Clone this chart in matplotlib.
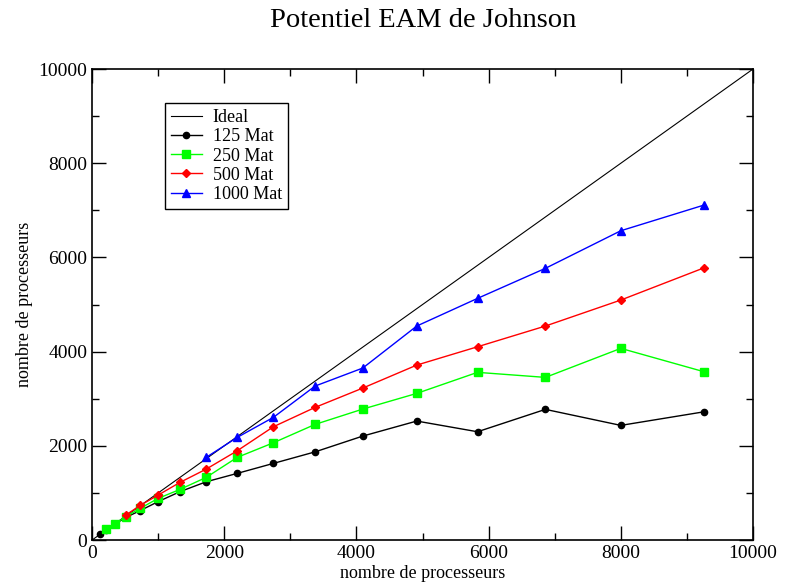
import matplotlib
matplotlib.use("Agg")
from matplotlib import pyplot as plt
from matplotlib.ticker import MultipleLocator

plt.rcParams["font.family"] = ["Liberation Serif", "DejaVu Serif"]

# processor counts (cubes 5^3 .. 21^3)
procs_125 = [125, 216, 343, 512, 729, 1000, 1331, 1728, 2197, 2744, 3375, 4096, 4913, 5832, 6859, 8000, 9261]
speed_125 = [128, 215, 335, 482, 626, 816, 1028, 1238, 1416, 1628, 1873, 2208, 2527, 2300, 2775, 2435, 2724]

procs_250 = [216, 343, 512, 729, 1000, 1331, 1728, 2197, 2744, 3375, 4096, 4913, 5832, 6859, 8000, 9261]
speed_250 = [227, 340, 500, 673, 885, 1076, 1331, 1756, 2066, 2456, 2781, 3114, 3561, 3454, 4070, 3573]

procs_500 = [512, 729, 1000, 1331, 1728, 2197, 2744, 3375, 4096, 4913, 5832, 6859, 8000, 9261]
speed_500 = [531, 737, 955, 1225, 1507, 1896, 2406, 2817, 3227, 3715, 4104, 4544, 5096, 5781]

procs_1000 = [1728, 2197, 2744, 3375, 4096, 4913, 5832, 6859, 8000, 9261]
speed_1000 = [1756, 2180, 2605, 3270, 3652, 4544, 5131, 5769, 6567, 7113]

ideal = [0, 10000]

fig = plt.figure(figsize=(7.93, 5.82), dpi=100)
ax = fig.add_axes([0.116, 0.072, 0.8336, 0.8094])

ax.plot(ideal, ideal, color="black", lw=0.8, label="Ideal")
ax.plot(procs_125, speed_125, color="black", lw=1, marker="o", ms=4.5, label="125 Mat")
ax.plot(procs_250, speed_250, color="#00ff00", lw=1, marker="s", ms=5.5, label="250 Mat")
ax.plot(procs_500, speed_500, color="red", lw=1, marker="D", ms=4.5, label="500 Mat")
ax.plot(procs_1000, speed_1000, color="blue", lw=1, marker="^", ms=6, label="1000 Mat")

ax.set_xlim(0, 10000)
ax.set_ylim(0, 10000)
ax.xaxis.set_major_locator(MultipleLocator(2000))
ax.xaxis.set_minor_locator(MultipleLocator(1000))
ax.yaxis.set_major_locator(MultipleLocator(2000))
ax.yaxis.set_minor_locator(MultipleLocator(1000))
ax.tick_params(which="both", direction="in", top=True, right=True, labelsize=14, width=1)
ax.tick_params(which="major", length=10)
ax.tick_params(which="minor", length=5)
for s in ax.spines.values():
    s.set_linewidth(1.2)

ax.set_xlabel("nombre de processeurs", fontsize=13, labelpad=2)
ax.set_ylabel("nombre de processeurs", fontsize=13, labelpad=4)
fig.text(0.534, 0.965, "Potentiel EAM de Johnson", ha="center", va="center", fontsize=20.5)

leg = ax.legend(loc="upper left", bbox_to_anchor=(0.110, 0.928), borderaxespad=0, fontsize=13,
                fancybox=False, framealpha=1, edgecolor="black",
                handlelength=1.7, borderpad=0.35, labelspacing=0.12, handletextpad=0.6)
leg.get_frame().set_linewidth(1)

fig.savefig("out.png", dpi=100)
